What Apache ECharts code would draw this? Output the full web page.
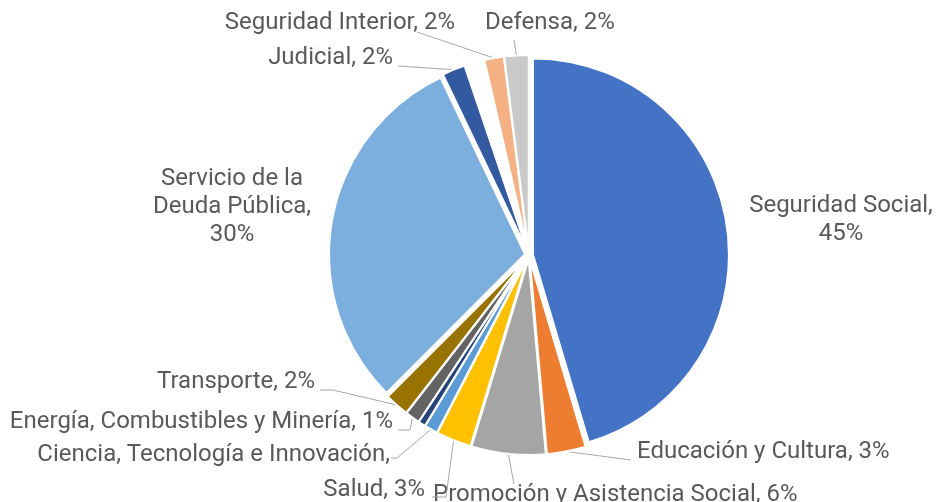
<!DOCTYPE html>
<html>
<head>
<meta charset="utf-8">
<script src="https://cdn.jsdelivr.net/npm/echarts@6/dist/echarts.min.js"></script>
<style>
  html, body { margin: 0; background: #fff; }
  #main { width: 936px; height: 502px; }
</style>
</head>
<body>
<div id="main"></div>
<script>
// gasto por finalidad, % del total
const categories = [
  'Seguridad Social',
  'Educación y Cultura',
  'Promoción y Asistencia Social',
  'Salud',
  'Ciencia, Tecnología e Innovación',
  'Resto',
  'Energía, Combustibles y Minería',
  'Transporte',
  'Servicio de la Deuda Pública',
  'Judicial',
  'Otros',
  'Seguridad Interior',
  'Defensa'
];
const shares = [45.4, 3.2, 6.1, 2.9, 1.1, 0.6, 1.2, 2.0, 30.4, 1.9, 1.6, 1.6, 2.0];
const colors = [
  '#4472C4', '#ED7D31', '#A5A5A5', '#FFC000', '#5B9BD5', '#264478',
  '#636363', '#997300', '#7CAFDD', '#335AA1', 'rgba(0,0,0,0)', '#F4B183', '#C9C9C9'
];

// etiquetas al estilo Excel: [x, y, align]; null = sin etiqueta
const labelPos = [
  [841, 220, 'center'],
  [637, 452, 'left'],
  [433, 495, 'left'],
  [425, 490, 'right'],
  [390, 455, 'right'],
  null,
  [393, 422, 'right'],
  [315, 382, 'right'],
  [232, 207, 'center'],
  [393, 58, 'right'],
  null,
  [455, 23, 'right'],
  [485, 23, 'left']
];
// extremo de la línea guía del lado de la etiqueta (null = sin línea)
const leaderEnd = [
  null,
  [[631, 460]],
  [[514, 484]],
  [[446, 497], [432, 497]],
  [[397, 458], [391, 458]],
  null,
  [[410, 430], [398, 430]],
  [[333, 390], [320, 390]],
  null,
  [[398, 66]],
  null,
  [[417, 32]],
  [[514, 40]]
];

const OFFSET = 4;
const chart = echarts.init(document.getElementById('main'));

const total = shares.reduce((a, b) => a + b, 0);

const labelText = i => {
  const pct = Math.round(shares[i] / total * 100) + '%';
  if (i === 0) return categories[i] + ',\n' + pct;
  if (i === 8) return 'Servicio de la\nDeuda Pública,\n' + pct;
  if (i === 4) return categories[i] + ',';
  return categories[i] + ', ' + pct;
};

chart.setOption({
  animation: false,
  series: [{
    type: 'pie',
    center: [529, 255],
    radius: 196,
    startAngle: 90,
    selectedMode: 'multiple',
    selectedOffset: OFFSET,
    itemStyle: { borderColor: '#fff', borderWidth: 2 },
    select: { itemStyle: { borderColor: '#fff', borderWidth: 2 } },
    emphasis: { disabled: true },
    label: { show: false },
    labelLine: { show: false },
    data: categories.map((name, i) => ({
      name: name,
      value: shares[i],
      selected: true,
      itemStyle: { color: colors[i] }
    }))
  }]
});

// punto medio del arco exterior de cada porción, tomado del layout de la serie
const arcMid = i => {
  const lay = chart.getModel().getSeriesByIndex(0).getData().getItemLayout(i);
  const mid = (lay.startAngle + lay.endAngle) / 2;
  const r = lay.r + OFFSET;
  return [lay.cx + Math.cos(mid) * r, lay.cy + Math.sin(mid) * r];
};

const graphics = [];
categories.forEach((name, i) => {
  const pos = labelPos[i];
  if (!pos) return;
  graphics.push({
    type: 'text',
    x: pos[0],
    y: pos[1],
    silent: true,
    style: {
      text: labelText(i),
      fontFamily: 'Roboto',
      fontSize: 24,
      lineHeight: 28,
      fill: '#595959',
      align: pos[2],
      verticalAlign: 'middle'
    }
  });
  if (leaderEnd[i]) {
    graphics.push({
      type: 'polyline',
      silent: true,
      shape: { points: [arcMid(i)].concat(leaderEnd[i]) },
      style: { stroke: '#A6A6A6', lineWidth: 1, fill: null }
    });
  }
});

chart.setOption({ graphic: graphics });
</script>
</body>
</html>
